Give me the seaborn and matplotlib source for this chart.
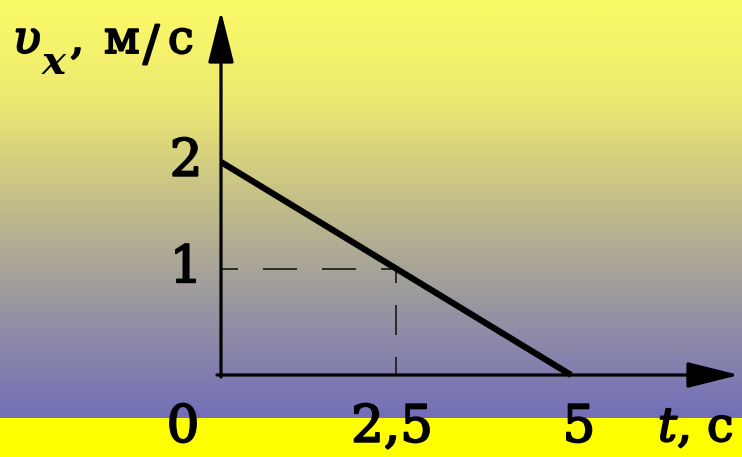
import numpy as np
import matplotlib
matplotlib.use("Agg")
import matplotlib.pyplot as plt
import matplotlib.patheffects as pe
import seaborn as sns
from matplotlib.colors import LinearSegmentedColormap

# ---- data ----
t_values = [0, 5]          # t, c
v_values = [2, 0]          # v_x, m/s
ref_t = 2.5
ref_v = 1
x_ticks = [0, 2.5, 5]
x_tick_labels = ["0", "2,5", "5"]
y_ticks = [1, 2]
y_tick_labels = ["1", "2"]

sns.set_theme(style="white")
plt.rcParams['font.family'] = ['DejaVu Serif']

W, H = 742, 457
fig = plt.figure(figsize=(W / 100, H / 100), dpi=100)
ax = fig.add_axes([0, 0, 1, 1])
X0, Y0 = 221, 375      # pixel position of origin
SX, SY = 70.0, 106.5   # pixels per unit
XMIN, XMAX = -X0 / SX, (W - X0) / SX
YMIN, YMAX = -(H - Y0) / SY, Y0 / SY


def px(x, y):
    return ((x - X0) / SX, (Y0 - y) / SY)


# background gradient
STRIP_PX = 418
strip_y = px(0, STRIP_PX)[1]
cmap = LinearSegmentedColormap.from_list("bg", [
    (0.00, (252/255, 251/255, 102/255)),
    (0.25, (236/255, 231/255, 114/255)),
    (0.50, (192/255, 187/255, 138/255)),
    (0.75, (150/255, 147/255, 163/255)),
    (1.00, (114/255, 111/255, 185/255)),
])
grad = np.linspace(0, 1, 256).reshape(-1, 1)
ax.imshow(grad, cmap=cmap, extent=[XMIN, XMAX, strip_y, YMAX], origin="upper",
          aspect="auto", zorder=0, interpolation="bilinear")
ax.axhspan(YMIN, strip_y, color="#ffff00", zorder=0, lw=0)

# axes with arrows
arrow_kw = dict(arrowstyle="-|>,head_length=3.2,head_width=0.8", mutation_scale=10,
                lw=2.3, color="black", shrinkA=0, shrinkB=0)
ax.annotate("", xy=px(221, 11), xytext=px(221, 377), arrowprops=arrow_kw, zorder=3)
ax.annotate("", xy=px(739, 375), xytext=px(217, 375), arrowprops=arrow_kw, zorder=3)

# main line
sns.lineplot(x=t_values, y=v_values, color="black", lw=4.5, ax=ax, zorder=4,
             estimator=None, sort=False, solid_capstyle="butt")

# dashed guides
lw_d = 1.3
k = 100 / 72 * lw_d  # pixels per dash unit
sns.lineplot(x=[0, ref_t], y=[ref_v, ref_v], color="#222222", lw=lw_d, ax=ax, zorder=2,
             estimator=None, sort=False,
             linestyle=(17 / k, (34 / k, 25 / k)))
sns.lineplot(x=[ref_t, ref_t], y=[0, ref_v], color="#222222", lw=lw_d, ax=ax, zorder=2,
             estimator=None, sort=False,
             linestyle=(12 / k, (30 / k, 22 / k)))

# heavier-than-regular text, like the reference's print face
thick = [pe.Stroke(linewidth=1.4, foreground="black"), pe.Normal()]
tkw = dict(color="black", zorder=5, path_effects=thick)

# tick labels
FS = 37
x_offsets = [-38, -4, 8]
for val, lab, off in zip(x_ticks, x_tick_labels, x_offsets):
    ax.annotate(lab, xy=(val, 0), xytext=(X0 + val * SX + off, H - 428),
                textcoords="figure pixels", xycoords="data",
                ha="center", va="center", fontsize=FS, **tkw)
for val, lab in zip(y_ticks, y_tick_labels):
    ax.annotate(lab, xy=(0, val), xytext=(186, H - (Y0 - val * SY)),
                textcoords="figure pixels", xycoords="data",
                ha="center", va="center", fontsize=FS, **tkw)

# axis labels
tt = ax.text(*px(658, 441), "t", fontsize=34, fontstyle="italic",
             ha="left", va="baseline", **tkw)
ax.annotate(", с", xy=(1, 0), xycoords=tt, ha="left", va="bottom", fontsize=34, **tkw)

ax.text(*px(13, 53), "υ", fontsize=33, fontstyle="italic",
        ha="left", va="baseline", **tkw)
ax.text(*px(42, 74), "x", fontsize=29, fontstyle="italic", fontweight="bold",
        ha="left", va="baseline", color="black", zorder=5)
ax.text(*px(70, 53), ",", fontsize=32, ha="left", va="baseline", **tkw)
ax.text(*px(104, 53), "м", fontsize=33, ha="left", va="baseline", **tkw)
ax.text(*px(143, 60), "/", fontsize=35, ha="left", va="baseline", **tkw)
ax.text(*px(168, 53), "с", fontsize=33, ha="left", va="baseline", **tkw)

ax.set_xlim(XMIN, XMAX)
ax.set_ylim(YMIN, YMAX)
ax.axis("off")
fig.savefig("out.png", dpi=100)
